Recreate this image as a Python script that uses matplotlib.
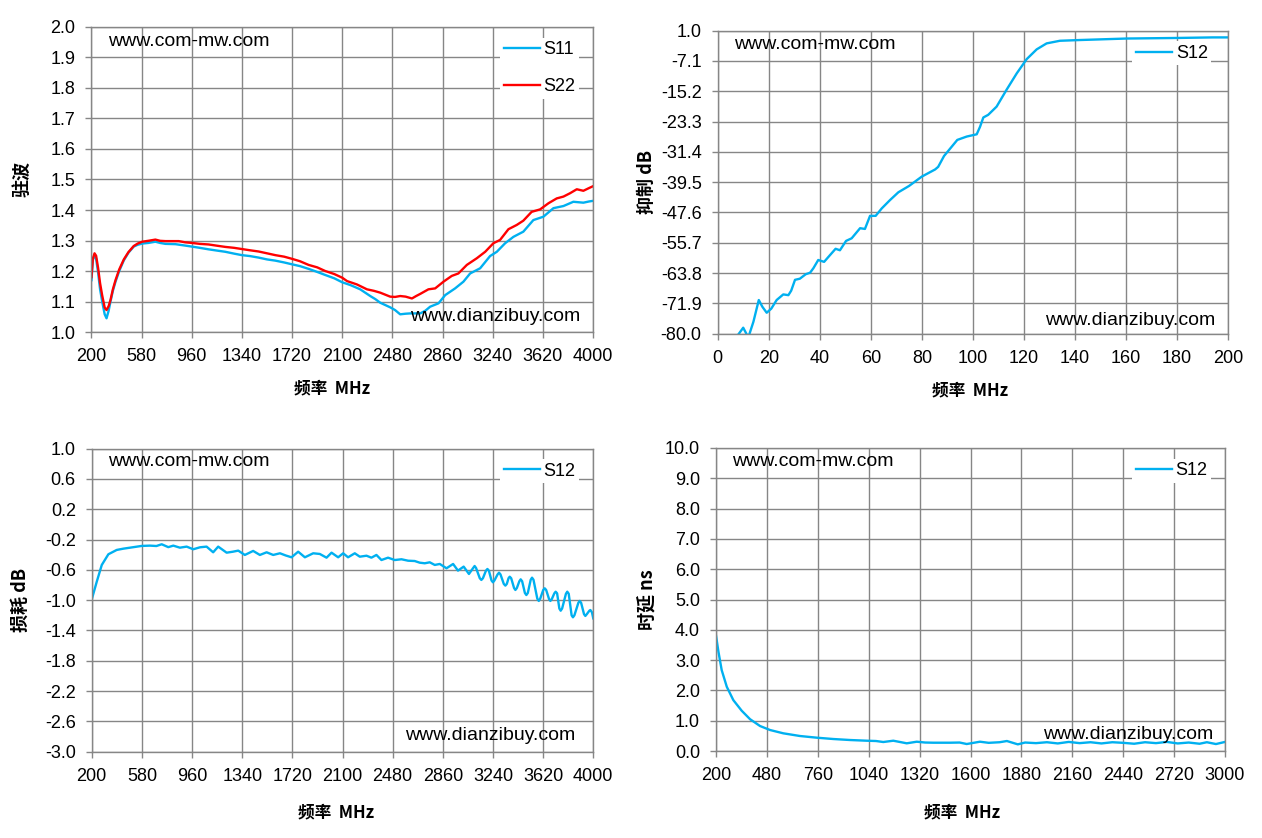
import matplotlib
matplotlib.use("Agg")
import matplotlib.pyplot as plt

plt.rcParams['font.family'] = ['Liberation Sans Narrow', 'Liberation Sans', 'Noto Sans CJK SC']

# ---- 驻波 (VSWR) ----
s11_f = [200, 210, 223, 235, 250, 265, 281, 300, 314, 330, 344, 362, 382, 410, 445, 480, 520, 550, 584,
         630, 684, 720, 760, 836, 900, 962, 1020, 1088, 1150, 1214, 1280, 1340, 1400, 1466, 1530, 1593,
         1660, 1719, 1780, 1845, 1910, 1971, 2040, 2100, 2161, 2236, 2312, 2350, 2388, 2463, 2500, 2539,
         2580, 2615, 2691, 2730, 2766, 2829, 2880, 2955, 3018, 3069, 3145, 3220, 3271, 3334, 3397, 3472,
         3548, 3624, 3700, 3776, 3851, 3927, 3970, 4000]
s11_v = [1.17, 1.235, 1.252, 1.24, 1.195, 1.14, 1.10, 1.058, 1.045, 1.07, 1.10, 1.135, 1.165, 1.20, 1.235,
         1.26, 1.28, 1.286, 1.29, 1.292, 1.296, 1.292, 1.289, 1.288, 1.284, 1.28, 1.276, 1.271, 1.267, 1.263,
         1.257, 1.252, 1.249, 1.244, 1.238, 1.234, 1.228, 1.222, 1.216, 1.207, 1.197, 1.187, 1.176, 1.163,
         1.154, 1.14, 1.118, 1.108, 1.096, 1.081, 1.072, 1.058, 1.06, 1.061, 1.061, 1.07, 1.083, 1.094, 1.121,
         1.143, 1.165, 1.192, 1.209, 1.249, 1.263, 1.291, 1.312, 1.329, 1.367, 1.378, 1.406, 1.413, 1.427,
         1.424, 1.428, 1.43]
s22_f = [200, 210, 223, 235, 250, 265, 281, 300, 314, 330, 344, 362, 382, 410, 445, 480, 520, 550, 584,
         630, 684, 720, 760, 810, 861, 910, 962, 1020, 1088, 1150, 1214, 1280, 1340, 1400, 1466, 1530, 1593,
         1660, 1719, 1780, 1845, 1910, 1971, 2040, 2100, 2136, 2211, 2287, 2340, 2388, 2463, 2500, 2539,
         2580, 2628, 2660, 2691, 2753, 2804, 2867, 2930, 2980, 3044, 3120, 3183, 3245, 3296, 3359, 3422,
         3472, 3535, 3599, 3662, 3725, 3776, 3826, 3877, 3927, 3970, 4000]
s22_v = [1.18, 1.24, 1.258, 1.25, 1.21, 1.16, 1.12, 1.08, 1.072, 1.085, 1.105, 1.14, 1.17, 1.205, 1.238,
         1.262, 1.282, 1.29, 1.296, 1.299, 1.303, 1.299, 1.298, 1.298, 1.298, 1.294, 1.292, 1.289, 1.287,
         1.283, 1.279, 1.276, 1.272, 1.268, 1.264, 1.258, 1.252, 1.247, 1.24, 1.232, 1.22, 1.212, 1.20, 1.19,
         1.178, 1.167, 1.156, 1.14, 1.135, 1.129, 1.116, 1.115, 1.118, 1.116, 1.11, 1.118, 1.125, 1.14, 1.143,
         1.165, 1.184, 1.192, 1.22, 1.242, 1.263, 1.291, 1.302, 1.337, 1.351, 1.365, 1.394, 1.402, 1.422,
         1.438, 1.444, 1.455, 1.468, 1.463, 1.472, 1.478]

# ---- 抑制 (rejection) ----
rej_f = [8.3, 10, 12, 14, 16.1, 17.5, 19.2, 21, 23.1, 25.7, 27.7, 28.8, 30.3, 32.2, 34.5, 36.2, 37.5, 39.4,
         41.7, 44, 46.2, 47.9, 50.3, 52.5, 55.8, 57.7, 59.7, 61.9, 64.3, 67.5, 70.8, 75, 80, 85.2, 86.4, 88.7,
         93.9, 97.6, 101.5, 102.8, 104.1, 106, 109.3, 113.2, 117.2, 121.1, 125, 128.9, 134.1, 142, 160.3,
         180, 194, 200]
rej_v = [-80.0, -78.4, -81.0, -76.8, -71.0, -72.8, -74.4, -73.3, -71.0, -69.5, -69.7, -68.5, -65.6, -65.3,
         -64.1, -63.7, -62.5, -60.3, -60.8, -59.0, -57.3, -57.7, -55.2, -54.5, -51.8, -52.0, -48.5, -48.5,
         -46.5, -44.3, -42.2, -40.5, -38.0, -36.1, -35.4, -32.5, -28.2, -27.3, -26.7, -24.7, -22.2, -21.5,
         -19.3, -14.8, -10.4, -6.6, -4.0, -2.4, -1.7, -1.5, -1.1, -0.95, -0.8, -0.8]
rej_ticks = [-80.0, -71.9, -63.8, -55.7, -47.6, -39.5, -31.4, -23.3, -15.2, -7.1, 1.0]

# ---- 损耗 (insertion loss) ----
il_f = [200, 238, 276, 326, 389, 440, 490, 578, 641, 690, 730, 780, 818, 868, 919, 969, 1020, 1070, 1120,
        1158, 1222, 1270, 1310, 1360, 1423, 1474, 1525, 1575, 1626, 1670, 1714, 1764, 1815, 1878, 1928,
        1979, 2017, 2067, 2105, 2142, 2193, 2231, 2282, 2319, 2357, 2395, 2445, 2496, 2547, 2597, 2647,
        2685, 2723, 2761, 2799, 2837, 2888, 2938, 2975, 3018, 3058,
        3090, 3101, 3112, 3140, 3152, 3164, 3187, 3198, 3209, 3229, 3240, 3251, 3275, 3286, 3297,
        3322, 3334, 3345, 3358, 3367, 3378, 3400, 3410, 3421, 3440, 3450, 3461, 3482, 3493, 3504,
        3526, 3536, 3547, 3576, 3587, 3598, 3621, 3632, 3643, 3665, 3675, 3686, 3705, 3715, 3726,
        3743, 3753, 3764, 3793, 3803, 3814, 3836, 3846, 3857, 3887, 3897, 3908, 3930, 3940, 3951,
        3970, 3978, 3990, 4000]
il_v = [-0.99, -0.756, -0.535, -0.394, -0.337, -0.32, -0.307, -0.284, -0.28, -0.285, -0.262, -0.30, -0.28,
        -0.307, -0.293, -0.328, -0.302, -0.293, -0.368, -0.293, -0.373, -0.36, -0.346, -0.403, -0.35, -0.403,
        -0.368, -0.403, -0.381, -0.41, -0.434, -0.36, -0.434, -0.381, -0.39, -0.439, -0.373, -0.434, -0.381,
        -0.434, -0.381, -0.426, -0.413, -0.439, -0.403, -0.47, -0.439, -0.47, -0.46, -0.479, -0.483, -0.505,
        -0.513, -0.50, -0.535, -0.522, -0.579, -0.522, -0.61, -0.557, -0.654,
        -0.575, -0.549, -0.575, -0.71, -0.733, -0.71, -0.61, -0.588, -0.61, -0.74, -0.764, -0.74,
        -0.66, -0.637, -0.66, -0.785, -0.808, -0.785, -0.71, -0.69, -0.71, -0.84, -0.865, -0.84,
        -0.75, -0.725, -0.75, -0.905, -0.932, -0.905, -0.73, -0.703, -0.73, -0.98, -1.01, -0.98,
        -0.865, -0.843, -0.865, -0.985, -1.01, -0.985, -0.91, -0.888, -0.91, -1.11, -1.139, -1.11,
        -0.915, -0.888, -0.915, -1.20, -1.226, -1.20, -1.035, -1.01, -1.035, -1.185, -1.208, -1.185,
        -1.14, -1.13, -1.16, -1.24]

# ---- 时延 (group delay) ----
gd_f = [200, 213, 231, 259, 295, 341, 387, 442, 497, 570, 662, 754, 845, 937, 1029, 1080, 1120, 1175, 1210,
        1249, 1304, 1350, 1395, 1487, 1540, 1579, 1652, 1700, 1760, 1800, 1860, 1900, 1960, 2020, 2080,
        2140, 2200, 2260, 2320, 2380, 2440, 2500, 2560, 2620, 2680, 2740, 2800, 2860, 2900, 2950, 3000]
gd_v = [3.8, 3.28, 2.67, 2.12, 1.68, 1.33, 1.05, 0.825, 0.693, 0.584, 0.495, 0.44, 0.396, 0.363, 0.34, 0.33,
        0.297, 0.34, 0.30, 0.254, 0.307, 0.28, 0.274, 0.274, 0.28, 0.231, 0.307, 0.27, 0.29, 0.33, 0.22,
        0.28, 0.26, 0.29, 0.25, 0.30, 0.26, 0.29, 0.25, 0.29, 0.27, 0.24, 0.29, 0.26, 0.30, 0.25, 0.28, 0.24,
        0.29, 0.23, 0.30]

BLUE = '#00B0F0'
RED = '#FF0000'
GRID = '#868686'
CJK = ['Noto Sans CJK SC', 'DejaVu Sans']

fig = plt.figure(figsize=(12.62, 8.38), dpi=100)


def style(ax, xticks, yticks, ylabels, xlab_pos, ylab_pos, ylabel):
    ax.set_xlim(xticks[0], xticks[-1])
    ax.set_ylim(yticks[0], yticks[-1])
    ax.set_xticks(xticks)
    ax.set_yticks(yticks)
    ax.set_yticklabels(ylabels)
    ax.grid(True, color=GRID, linewidth=1.0)
    ax.set_axisbelow(True)
    for s in ax.spines.values():
        s.set_color(GRID)
        s.set_linewidth(1.0)
    ax.tick_params(length=4.5, width=1.0, color=GRID, labelsize=13, pad=7)
    ax.set_xlabel('频率  MHz', family=CJK, fontsize=12, fontweight='bold')
    ax.xaxis.set_label_coords(*xlab_pos)
    ax.xaxis.label.set_va('center')
    ax.set_ylabel(ylabel, family=CJK, fontsize=13, fontweight='bold')
    ax.yaxis.set_label_coords(*ylab_pos)
    ax.yaxis.label.set_va('center')


def marks(ax, top_y, bot_x, bot_y):
    ax.text(0.032, top_y, 'www.com-mw.com', transform=ax.transAxes, fontsize=14,
            va='center', ha='left', zorder=5)
    ax.text(bot_x, bot_y, 'www.dianzibuy.com', transform=ax.transAxes, fontsize=14,
            va='center', ha='right', zorder=5)


def legend(ax, anchor, spacing=0.5):
    lg = ax.legend(loc='upper right', bbox_to_anchor=anchor, frameon=True, fancybox=False,
                   framealpha=1, facecolor='white', edgecolor='none', fontsize=13,
                   handlelength=2.0, handletextpad=0.2, labelspacing=spacing, borderpad=0.2)
    lg.set_zorder(10)


# top-left: VSWR
ax1 = fig.add_axes([0.0725, 0.6038, 0.3974, 0.364])
ax1.plot(s11_f, s11_v, color=BLUE, linewidth=1.7, label='S11')
ax1.plot(s22_f, s22_v, color=RED, linewidth=1.7, label='S22')
vt = [1.0 + 0.1 * i for i in range(11)]
style(ax1, list(range(200, 4001, 380)), vt, ['%.1f' % v for v in vt],
      (0.48, -0.184), (-0.139, 0.5), '驻波')
marks(ax1, 0.954, 0.974, 0.052)
legend(ax1, (0.99, 0.995), spacing=1.1)

# top-right: rejection
ax2 = fig.add_axes([0.5687, 0.6018, 0.4044, 0.3616])
ax2.plot(rej_f, rej_v, color=BLUE, linewidth=1.7, label='S12')
style(ax2, list(range(0, 201, 20)), rej_ticks, ['%.1f' % v for v in rej_ticks],
      (0.494, -0.186), (-0.14, 0.5), '抑制 dB')
marks(ax2, 0.956, 0.975, 0.045)
legend(ax2, (0.985, 0.995))

# bottom-left: insertion loss
ax3 = fig.add_axes([0.0727, 0.103, 0.3974, 0.3616])
ax3.plot(il_f, il_v, color=BLUE, linewidth=1.7, label='S12')
lt = [-3.0 + 0.4 * i for i in range(11)]
style(ax3, list(range(200, 4001, 380)), lt, ['%.1f' % v for v in lt],
      (0.487, -0.199), (-0.143, 0.5), '损耗 dB')
marks(ax3, 0.956, 0.965, 0.055)
legend(ax3, (0.99, 0.995))

# bottom-right: group delay
ax4 = fig.add_axes([0.5674, 0.1038, 0.4033, 0.3616])
ax4.plot(gd_f, gd_v, color=BLUE, linewidth=1.7, label='S12')
gt = [float(i) for i in range(11)]
style(ax4, list(range(200, 3001, 280)), gt, ['%.1f' % v for v in gt],
      (0.483, -0.201), (-0.134, 0.5), '时延 ns')
marks(ax4, 0.956, 0.976, 0.055)
legend(ax4, (0.99, 0.995))

fig.savefig('out.png', dpi=100)
